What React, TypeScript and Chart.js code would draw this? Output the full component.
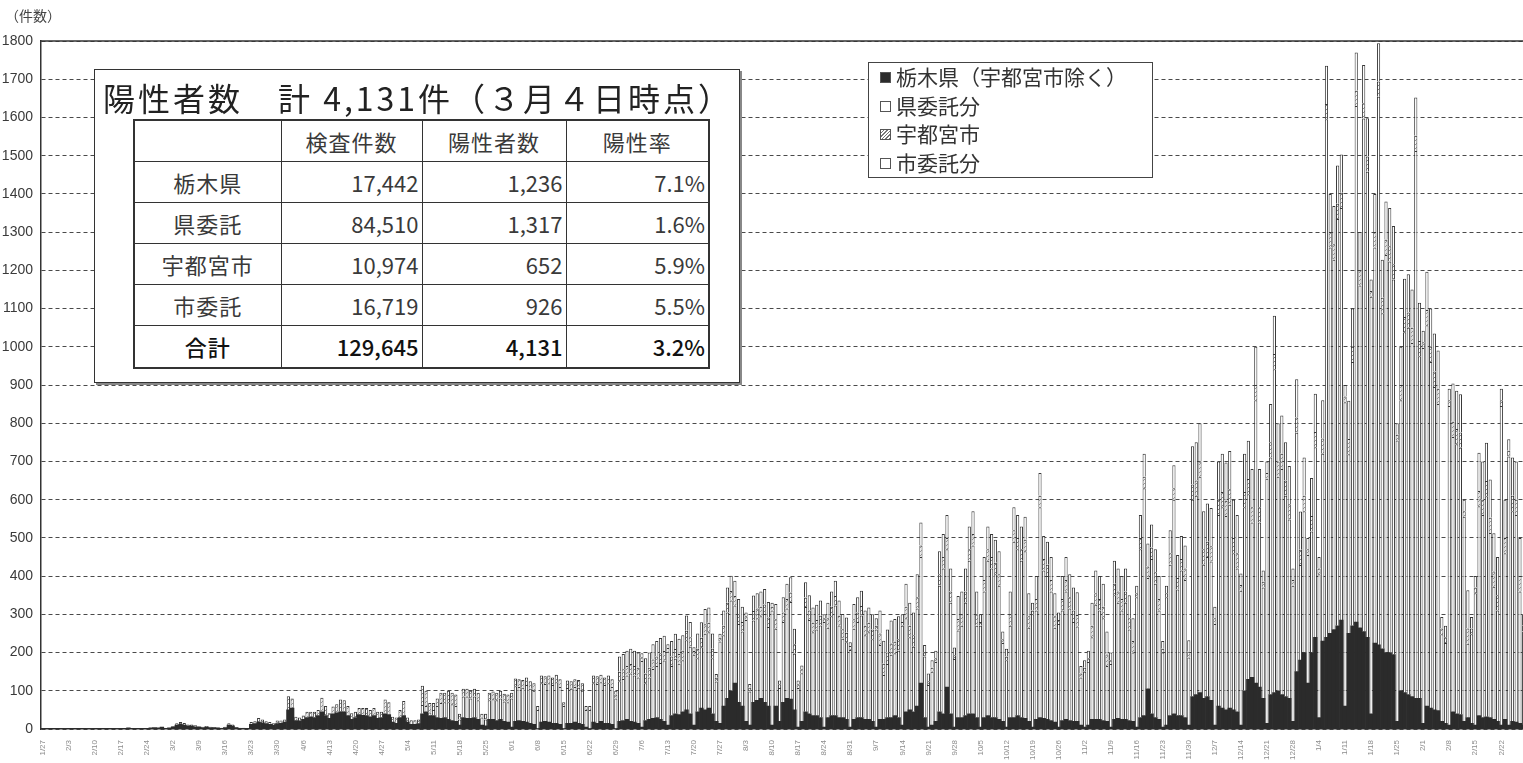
import React, { useEffect, useRef } from "react";
import { Chart, registerables } from "chart.js";

Chart.register(...registerables);

// ---- categories: one bar per day, 2020-01-27 .. 2021-03-03 ----
const START_UTC = Date.UTC(2020, 0, 27);
const DAY_COUNT = 402;
const dayLabels: string[] = Array.from({ length: DAY_COUNT }, (_, i) => {
  const d = new Date(START_UTC + i * 86400000);
  return `${d.getUTCMonth() + 1}/${d.getUTCDate()}`;
});

// ---- daily test counts, one row per week (Mon..Sun) ----
// 栃木県（宇都宮市除く）
const tochigiByWeek: number[][] = [
  [0, 1, 2, 1, 1, 0, 0], [1, 1, 2, 1, 1, 0, 0], [1, 2, 1, 2, 1, 1, 0], [1, 2, 3, 2, 2, 1, 1],
  [2, 3, 4, 3, 5, 2, 3], [6, 10, 12, 10, 8, 8, 6], [5, 4, 6, 4, 4, 3, 2], [4, 10, 8, 4, 2, 2, 1],
  [12, 14, 18, 16, 14, 12, 10], [14, 15, 18, 50, 55, 22, 20], [25, 30, 32, 30, 35, 45, 35], [28, 40, 42, 45, 45, 35, 25],
  [30, 38, 36, 35, 32, 35, 28], [30, 40, 38, 18, 15, 30, 35], [18, 12, 12, 14, 40, 45, 35], [35, 30, 28, 30, 25, 22, 20],
  [10, 30, 28, 28, 30, 25, 10], [8, 25, 25, 22, 25, 20, 18], [5, 20, 22, 20, 18, 15, 12], [0, 18, 20, 18, 15, 15, 12],
  [0, 15, 15, 18, 15, 12, 5], [0, 18, 15, 20, 15, 15, 12], [0, 20, 22, 25, 20, 18, 15], [5, 22, 25, 28, 30, 25, 20],
  [10, 35, 40, 38, 45, 50, 40], [10, 45, 55, 50, 55, 40, 20], [15, 60, 80, 100, 120, 70, 60], [20, 10, 70, 75, 80, 70, 60],
  [10, 60, 20, 70, 80, 78, 50], [5, 20, 45, 40, 35, 35, 30], [5, 30, 35, 35, 30, 30, 25], [5, 25, 30, 30, 25, 25, 20],
  [5, 25, 25, 30, 30, 35, 30], [10, 45, 50, 45, 60, 120, 30], [5, 10, 20, 45, 40, 110, 40], [5, 30, 30, 35, 40, 40, 30],
  [5, 30, 35, 30, 30, 25, 20], [5, 30, 30, 35, 30, 28, 20], [5, 25, 30, 28, 25, 22, 18], [5, 22, 25, 22, 20, 20, 10],
  [5, 10, 25, 25, 25, 22, 20], [5, 25, 28, 25, 25, 22, 20], [5, 30, 35, 105, 40, 30, 25], [5, 10, 35, 40, 35, 35, 30],
  [10, 85, 90, 95, 80, 85, 75], [10, 60, 55, 50, 55, 50, 45], [10, 100, 130, 135, 120, 110, 80], [15, 90, 95, 100, 90, 85, 80],
  [20, 150, 180, 200, 120, 200, 240], [30, 230, 240, 250, 260, 270, 285], [60, 250, 270, 280, 265, 255, 240], [40, 225, 220, 210, 200, 200, 195],
  [20, 100, 95, 90, 85, 80, 80], [15, 60, 55, 50, 48, 20, 15], [10, 45, 40, 38, 20, 30, 15], [10, 35, 30, 32, 30, 25, 20],
  [10, 25, 10, 20, 18, 15, 10], [10, 15, 20],
];

// 県委託分
const kenItakuByWeek: number[][] = [
  [0, 0, 0, 0, 0, 0, 0], [0, 0, 0, 0, 0, 0, 0], [0, 0, 0, 0, 0, 0, 0], [0, 0, 0, 0, 0, 0, 0],
  [0, 0, 0, 0, 0, 0, 0], [0, 0, 0, 0, 0, 0, 0], [0, 0, 0, 0, 0, 0, 0], [0, 0, 0, 0, 0, 0, 0],
  [0, 0, 0, 0, 0, 0, 0], [0, 0, 0, 0, 0, 0, 0], [0, 0, 0, 0, 0, 0, 0], [0, 0, 0, 0, 0, 0, 0],
  [0, 0, 0, 0, 0, 0, 0], [0, 0, 0, 0, 0, 0, 0], [0, 0, 0, 0, 23, 15, 8], [15, 30, 40, 40, 45, 43, 40],
  [15, 55, 57, 52, 55, 50, 20], [17, 50, 53, 53, 55, 52, 52], [75, 92, 88, 88, 97, 90, 88], [50, 102, 98, 102, 100, 107, 98],
  [60, 92, 90, 92, 93, 88, 45], [50, 102, 103, 102, 100, 105, 98], [80, 105, 109, 115, 125, 122, 120], [173, 98, 110, 129, 135, 148, 159],
  [192, 130, 144, 133, 135, 182, 175], [184, 140, 159, 199, 198, 145, 104], [214, 185, 225, 236, 203, 205, 195], [265, 88, 214, 215, 215, 231, 207],
  [300, 202, 87, 210, 235, 254, 147], [102, 126, 274, 245, 218, 225, 241], [275, 235, 260, 288, 241, 206, 202], [202, 237, 250, 267, 220, 228, 215],
  [255, 195, 116, 140, 164, 163, 175], [260, 245, 190, 170, 255, 330, 160], [110, 140, 155, 330, 380, 360, 290], [178, 228, 240, 295, 400, 440, 240],
  [265, 330, 405, 390, 375, 350, 205], [175, 240, 460, 435, 410, 437, 245], [295, 285, 550, 387, 375, 338, 247], [270, 288, 335, 293, 260, 248, 125],
  [145, 165, 215, 300, 285, 268, 145], [165, 325, 302, 285, 305, 238, 180], [340, 440, 595, 290, 405, 350, 285], [195, 335, 395, 560, 330, 380, 360],
  [177, 515, 520, 565, 350, 365, 363], [265, 500, 525, 507, 532, 410, 375], [352, 480, 484, 405, 740, 430, 290], [640, 620, 846, 560, 590, 525, 468],
  [355, 625, 249, 370, 335, 317, 497], [375, 490, 1355, 1010, 968, 1064, 1078], [795, 469, 690, 1350, 895, 1342, 1218], [1091, 1035, 1434, 878, 1040, 1023, 981],
  [735, 760, 943, 960, 925, 1432, 895], [982, 996, 905, 845, 802, 228, 210], [835, 719, 705, 698, 535, 193, 233], [345, 548, 530, 577, 483, 347, 290],
  [835, 435, 703, 550, 542, 345, 245], [595, 565, 540],
];

// 宇都宮市
const utsunomiyaByWeek: number[][] = [
  [0, 0, 0, 0, 0, 0, 0], [0, 0, 0, 0, 0, 0, 0], [0, 0, 0, 0, 0, 0, 0], [0, 0, 0, 0, 0, 0, 0],
  [0, 0, 0, 0, 0, 0, 0], [2, 5, 6, 6, 4, 4, 4], [2, 2, 2, 2, 1, 1, 1], [2, 5, 4, 1, 1, 1, 1],
  [6, 6, 11, 9, 6, 6, 5], [8, 7, 7, 36, 25, 10, 10], [10, 15, 13, 15, 15, 37, 25], [13, 19, 23, 32, 30, 25, 16],
  [15, 17, 19, 20, 18, 20, 17], [15, 37, 32, 14, 15, 20, 38], [12, 11, 11, 11, 50, 40, 25], [18, 20, 27, 25, 30, 30, 30],
  [15, 20, 20, 20, 20, 20, 10], [15, 20, 20, 20, 20, 20, 20], [15, 20, 20, 20, 20, 20, 20], [10, 20, 20, 20, 20, 20, 20],
  [10, 20, 20, 20, 20, 20, 10], [10, 20, 20, 20, 20, 20, 20], [10, 25, 25, 25, 25, 25, 25], [10, 25, 25, 25, 25, 25, 25],
  [10, 25, 25, 25, 25, 25, 25], [10, 25, 25, 25, 25, 25, 10], [10, 25, 25, 25, 25, 25, 25], [10, 10, 25, 25, 25, 25, 25],
  [10, 25, 10, 25, 25, 25, 25], [10, 10, 25, 25, 25, 25, 25], [10, 25, 25, 25, 25, 25, 25], [10, 25, 25, 25, 25, 25, 25],
  [10, 30, 30, 30, 30, 30, 30], [10, 30, 30, 30, 30, 30, 10], [10, 10, 10, 30, 30, 30, 30], [10, 30, 30, 30, 30, 30, 30],
  [10, 30, 30, 30, 30, 30, 10], [10, 30, 30, 30, 30, 30, 30], [10, 30, 30, 30, 30, 30, 30], [10, 30, 30, 30, 30, 30, 10],
  [10, 10, 30, 30, 30, 30, 30], [10, 30, 30, 30, 30, 30, 30], [10, 30, 30, 30, 30, 30, 30], [10, 10, 30, 30, 30, 30, 30],
  [15, 40, 40, 40, 40, 40, 40], [15, 40, 40, 40, 40, 40, 40], [15, 40, 40, 40, 40, 40, 15], [15, 40, 40, 40, 40, 40, 40],
  [15, 40, 40, 40, 15, 40, 40], [15, 40, 40, 40, 40, 40, 40], [15, 40, 40, 40, 40, 40, 40], [15, 40, 40, 40, 40, 40, 40],
  [15, 40, 40, 40, 40, 40, 40], [15, 40, 40, 40, 40, 15, 15], [15, 40, 40, 40, 15, 40, 15], [15, 40, 40, 40, 40, 40, 40],
  [15, 40, 15, 40, 40, 40, 15], [15, 40, 40],
];

// 市委託分
const shiItakuByWeek: number[][] = [
  [0, 0, 0, 0, 0, 0, 0], [0, 0, 0, 0, 0, 0, 0], [0, 0, 0, 0, 0, 0, 0], [0, 0, 0, 0, 0, 0, 0],
  [0, 0, 0, 0, 0, 0, 0], [0, 0, 0, 0, 0, 0, 0], [0, 0, 0, 0, 0, 0, 0], [0, 0, 0, 0, 0, 0, 0],
  [0, 0, 0, 0, 0, 0, 0], [0, 0, 0, 0, 0, 0, 0], [0, 0, 0, 0, 0, 0, 0], [0, 0, 0, 0, 0, 0, 0],
  [0, 0, 0, 0, 0, 0, 0], [0, 0, 0, 0, 0, 0, 0], [0, 0, 0, 0, 0, 0, 0], [0, 0, 0, 0, 0, 0, 0],
  [0, 0, 0, 0, 0, 0, 0], [0, 0, 0, 0, 0, 0, 0], [0, 0, 0, 0, 0, 0, 0], [0, 0, 0, 0, 0, 0, 0],
  [0, 0, 0, 0, 0, 0, 0], [0, 0, 0, 0, 0, 0, 0], [10, 40, 40, 40, 40, 40, 40], [10, 40, 40, 40, 40, 40, 40],
  [10, 40, 40, 40, 40, 40, 40], [10, 40, 40, 40, 40, 40, 10], [10, 40, 40, 40, 40, 40, 40], [10, 10, 40, 40, 40, 40, 40],
  [10, 40, 10, 40, 40, 40, 40], [10, 10, 40, 40, 40, 40, 40], [10, 40, 40, 40, 40, 40, 40], [10, 40, 40, 40, 40, 40, 40],
  [20, 60, 60, 60, 60, 60, 60], [20, 60, 60, 60, 60, 60, 20], [20, 20, 20, 60, 60, 60, 60], [20, 60, 60, 60, 60, 60, 60],
  [20, 60, 60, 60, 60, 60, 20], [20, 60, 60, 60, 60, 60, 60], [20, 60, 60, 60, 60, 60, 60], [20, 60, 60, 60, 60, 60, 20],
  [20, 20, 60, 60, 60, 60, 60], [20, 60, 60, 60, 60, 60, 60], [20, 60, 60, 60, 60, 60, 60], [20, 20, 60, 60, 60, 60, 60],
  [30, 100, 100, 100, 100, 100, 100], [30, 100, 100, 100, 100, 100, 100], [30, 100, 100, 100, 100, 100, 30], [30, 100, 100, 100, 100, 100, 100],
  [30, 100, 100, 100, 30, 100, 100], [30, 100, 100, 100, 100, 100, 100], [30, 100, 100, 100, 100, 100, 100], [30, 100, 100, 100, 100, 100, 100],
  [30, 100, 100, 100, 100, 100, 100], [30, 100, 100, 100, 100, 30, 30], [30, 100, 100, 100, 30, 100, 30], [30, 100, 100, 100, 100, 100, 100],
  [30, 100, 30, 100, 100, 100, 30], [30, 100, 100],
];

const tochigi = tochigiByWeek.flat();
const kenItaku = kenItakuByWeek.flat();
const utsunomiya = utsunomiyaByWeek.flat();
const shiItaku = shiItakuByWeek.flat();

// ---- axis / legend / summary table text ----
const Y_MAX = 1800;
const Y_STEP = 100;
const yUnitLabel = "（件数）";
const legendLabels = ["栃木県（宇都宮市除く）", "県委託分", "宇都宮市", "市委託分"];
const summaryTitle = "陽性者数　計 4,131件（３月４日時点）";
const tableHeaders = ["", "検査件数", "陽性者数", "陽性率"];
const tableRowNames = ["栃木県", "県委託", "宇都宮市", "市委託"];
const tableTests = ["17,442", "84,510", "10,974", "16,719"];
const tablePositives = ["1,236", "1,317", "652", "926"];
const tableRates = ["7.1%", "1.6%", "5.9%", "5.5%"];
const totalRow = ["合計", "129,645", "4,131", "3.2%"];

const JP = "'Noto Sans CJK JP', 'Noto Sans', sans-serif";
const INK = "#333";
const BAR_EDGE = "#383838";

function makeHatch(): CanvasPattern | string {
  const c = document.createElement("canvas");
  c.width = 4;
  c.height = 4;
  const g = c.getContext("2d");
  if (!g) return "#ddd";
  g.fillStyle = "#fff";
  g.fillRect(0, 0, 4, 4);
  g.strokeStyle = "#888";
  g.lineWidth = 1;
  g.beginPath();
  g.moveTo(0, 4);
  g.lineTo(4, 0);
  g.stroke();
  return g.createPattern(c, "repeat") || "#ddd";
}

// solid frame line along the top of the plot area
const topFrame = {
  id: "topFrame",
  afterDraw(chart: any) {
    const { ctx, chartArea: a } = chart;
    ctx.save();
    ctx.strokeStyle = INK;
    ctx.lineWidth = 1.5;
    ctx.beginPath();
    ctx.moveTo(a.left, a.top);
    ctx.lineTo(a.right + 10, a.top);
    ctx.stroke();
    ctx.restore();
  },
};

const hatchCss =
  "repeating-linear-gradient(135deg, #fff 0px, #fff 1.5px, #777 1.5px, #777 2.5px)";

export default function App() {
  const canvasRef = useRef<HTMLCanvasElement | null>(null);

  useEffect(() => {
    if (!canvasRef.current) return;
    const white = { backgroundColor: "#ffffff", borderColor: BAR_EDGE, borderWidth: 1, barPercentage: 0.86, categoryPercentage: 1 };
    const chart = new Chart(canvasRef.current, {
      type: "bar",
      data: {
        labels: dayLabels,
        datasets: [
          { label: legendLabels[0], data: tochigi, backgroundColor: "#2b2b2b", borderColor: "#2b2b2b", borderWidth: 0, barPercentage: 1, categoryPercentage: 1 },
          { label: legendLabels[1], data: kenItaku, ...white },
          { label: legendLabels[2], data: utsunomiya, ...white, backgroundColor: makeHatch() as any },
          { label: legendLabels[3], data: shiItaku, ...white },
        ],
      },
      options: {
        animation: false,
        responsive: false,
        devicePixelRatio: 1,
        layout: { padding: { top: 41, right: 3, bottom: 0, left: 0 } },
        plugins: { legend: { display: false }, tooltip: { enabled: false } },
        scales: {
          x: {
            stacked: true,
            grid: { display: false },
            border: { display: true, color: INK, width: 1.5 },
            afterFit: (s: any) => { s.height = 34; },
            ticks: {
              autoSkip: false,
              minRotation: 90,
              maxRotation: 90,
              padding: 3,
              color: "#8c8c8c",
              font: { size: 8, family: "'Liberation Sans', sans-serif" },
              callback: (_v: any, i: number) => (i % 7 === 0 ? dayLabels[i] : null),
            },
          },
          y: {
            stacked: true,
            min: 0,
            max: Y_MAX,
            afterFit: (s: any) => { s.width = 41; },
            grid: { color: "#4a4a4a", lineWidth: 1, drawTicks: false },
            border: { display: true, color: INK, width: 1.5, dash: [4, 3] },
            ticks: {
              stepSize: Y_STEP,
              padding: 8,
              color: "#3a3a3a",
              font: { size: 14, family: "'Liberation Sans', sans-serif" },
              callback: (v: any) => String(v),
            },
          },
        },
      },
      plugins: [topFrame],
    } as any);
    return () => chart.destroy();
  }, []);

  const cell: React.CSSProperties = {
    border: `1.5px solid ${INK}`,
    padding: "0 3px",
    fontFamily: JP,
    fontSize: 22,
    color: "#3a3a3a",
    verticalAlign: "middle",
    whiteSpace: "nowrap",
  };
  const colW = [147, 141, 144, 143];

  return (
    <div style={{ position: "fixed", left: 0, top: 0, width: 1523, height: 763, overflow: "hidden", background: "#fff" }}>
      <canvas ref={canvasRef} width={1540} height={763} style={{ position: "absolute", left: 0, top: 0, width: 1540, height: 763 }} />

      <div style={{ position: "absolute", left: 5, top: 5, fontFamily: JP, fontSize: 14, color: "#444", lineHeight: "20px" }}>{yUnitLabel}</div>

      {/* summary box */}
      <div style={{ position: "absolute", left: 94, top: 69, width: 644, height: 312, background: "#fff", border: `1.5px solid ${INK}`, boxShadow: "2px 2px 0 #888" }}>
        <div style={{ position: "absolute", left: 8, top: 6, fontFamily: JP, fontSize: 32, letterSpacing: 3, lineHeight: "42px", color: "#222", whiteSpace: "nowrap" }}>{summaryTitle}</div>
      </div>
      <table style={{ position: "absolute", left: 133, top: 119, width: 575, height: 250, borderCollapse: "collapse", tableLayout: "fixed", background: "#fff", border: `2px solid ${INK}` }}>
        <colgroup>
          {colW.map((w, i) => <col key={i} style={{ width: w }} />)}
        </colgroup>
        <tbody>
          <tr style={{ height: 41 }}>
            {tableHeaders.map((h, i) => <td key={i} style={{ ...cell, textAlign: "center", letterSpacing: 1 }}>{h}</td>)}
          </tr>
          {tableRowNames.map((name, r) => (
            <tr key={name} style={{ height: 41 }}>
              <td style={{ ...cell, textAlign: "center", letterSpacing: 1 }}>{name}</td>
              <td style={{ ...cell, textAlign: "right" }}>{tableTests[r]}</td>
              <td style={{ ...cell, textAlign: "right" }}>{tablePositives[r]}</td>
              <td style={{ ...cell, textAlign: "right" }}>{tableRates[r]}</td>
            </tr>
          ))}
          <tr style={{ height: 43 }}>
            {totalRow.map((t, i) => (
              <td key={i} style={{ ...cell, color: "#111", fontWeight: 500, textAlign: i === 0 ? "center" : "right", letterSpacing: i === 0 ? 1 : 0 }}>{t}</td>
            ))}
          </tr>
        </tbody>
      </table>

      {/* legend */}
      <div style={{ position: "absolute", left: 868, top: 62, width: 283, height: 114, background: "#fff", border: "1.5px solid #444" }}>
        {legendLabels.map((lab, i) => {
          const marker: React.CSSProperties = {
            position: "absolute", left: 11, top: 8, width: 11, height: 11, boxSizing: "border-box",
            border: "1px solid #555",
            background: i === 0 ? "#2b2b2b" : i === 2 ? hatchCss : "#fff",
          };
          return (
            <div key={lab} style={{ position: "absolute", left: 0, top: 1 + i * 28.5, height: 28, width: 283 }}>
              <div style={marker} />
              <div style={{ position: "absolute", left: 27, top: -2, fontFamily: JP, fontSize: 21, lineHeight: "28px", color: "#333", whiteSpace: "nowrap" }}>{lab}</div>
            </div>
          );
        })}
      </div>
    </div>
  );
}
